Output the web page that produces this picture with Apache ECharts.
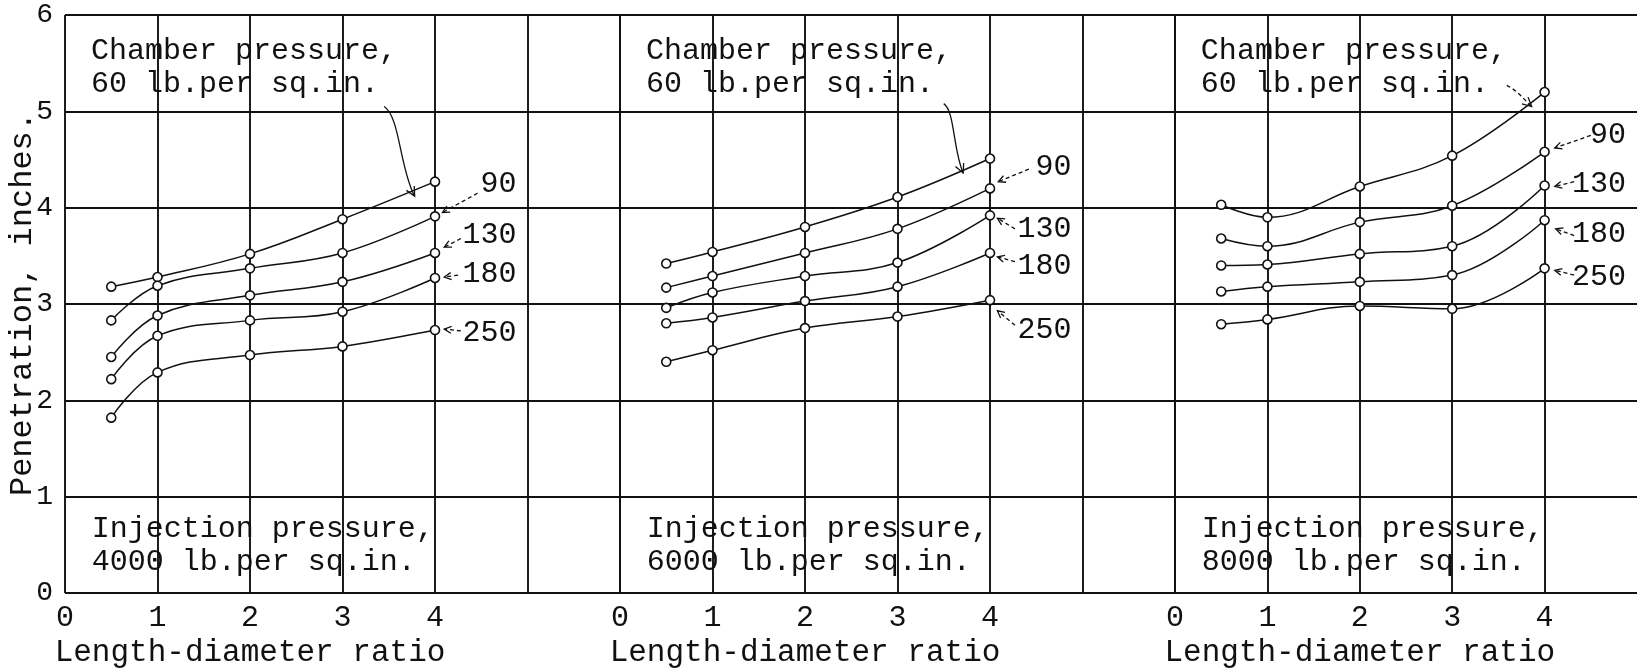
<!DOCTYPE html>
<html>
<head>
<meta charset="utf-8">
<script src="https://cdn.jsdelivr.net/npm/echarts@6/dist/echarts.min.js"></script>
<style>
html, body { margin: 0; padding: 0; background: #fff; }
#main { width: 1640px; height: 671px; }
</style>
</head>
<body>
<div id="main"></div>
<script>
// length-diameter ratios of the test points
var ratio = [0.5, 1, 2, 3, 4];
var xTickLabels = ['0', '1', '2', '3', '4'];
var yTickLabels = ['0', '1', '2', '3', '4', '5', '6'];
var injection = ['4000', '6000', '8000'];
var chamber = ['60', '90', '130', '180', '250'];

// penetration, inches (injection 4000)
var p4000_60  = [3.18, 3.28, 3.52, 3.88, 4.27];
var p4000_90  = [2.83, 3.19, 3.37, 3.53, 3.91];
var p4000_130 = [2.45, 2.88, 3.09, 3.23, 3.53];
var p4000_180 = [2.22, 2.67, 2.83, 2.92, 3.27];
var p4000_250 = [1.82, 2.29, 2.47, 2.56, 2.73];
// injection 6000
var p6000_60  = [3.42, 3.54, 3.80, 4.11, 4.51];
var p6000_90  = [3.17, 3.29, 3.53, 3.78, 4.20];
var p6000_130 = [2.96, 3.12, 3.29, 3.43, 3.92];
var p6000_180 = [2.80, 2.86, 3.03, 3.18, 3.53];
var p6000_250 = [2.40, 2.52, 2.75, 2.87, 3.04];
// injection 8000
var p8000_60  = [4.03, 3.90, 4.22, 4.54, 5.20];
var p8000_90  = [3.68, 3.60, 3.85, 4.02, 4.58];
var p8000_130 = [3.40, 3.41, 3.52, 3.60, 4.23];
var p8000_180 = [3.13, 3.18, 3.23, 3.30, 3.87];
var p8000_250 = [2.79, 2.84, 2.98, 2.95, 3.37];

var panels = [
    [p4000_60, p4000_90, p4000_130, p4000_180, p4000_250],
    [p6000_60, p6000_90, p6000_130, p6000_180, p6000_250],
    [p8000_60, p8000_90, p8000_130, p8000_180, p8000_250]
];

var FONT = '"Liberation Mono", "DejaVu Sans Mono", monospace';
var INK = '#111';

var myChart = echarts.init(document.getElementById('main'));

var grids = [], xAxes = [], yAxes = [], series = [];
var lefts = [65, 620, 1175];
var widths = [555, 555, 462.5];
var maxes = [6, 6, 5];
for (var p = 0; p < 3; p++) {
    grids.push({ left: lefts[p], top: 15, width: widths[p], height: 578 });
    xAxes.push({
        type: 'value', gridIndex: p, min: 0, max: maxes[p], interval: 1,
        axisLine: { show: false }, axisTick: { show: false },
        splitLine: { show: true, showMaxLine: p < 2, lineStyle: { color: INK, width: 1.9 } },
        axisLabel: {
            color: INK, fontFamily: FONT, fontSize: 30, margin: 10,
            formatter: function(v) { return xTickLabels[v] || ''; }
        }
    });
    yAxes.push({
        type: 'value', gridIndex: p, min: 0, max: 6, interval: 1,
        axisLine: { show: false }, axisTick: { show: false },
        splitLine: { show: true, lineStyle: { color: INK, width: 1.9 } },
        axisLabel: {
            show: p == 0, color: INK, fontFamily: FONT, fontSize: 28, margin: 12,
            formatter: function(v) { return yTickLabels[v]; }
        },
        name: p == 0 ? 'Penetration, inches.' : '',
        nameLocation: 'middle', nameRotate: 90, nameGap: 26, nameMoveOverlap: false,
        nameTextStyle: { color: INK, fontFamily: FONT, fontSize: 32 }
    });
    for (var k = 0; k < 5; k++) {
        var vals = panels[p][k];
        series.push({
            name: injection[p] + '/' + chamber[k],
            type: 'line', xAxisIndex: p, yAxisIndex: p,
            data: ratio.map(function(x, j) { return [x, vals[j]]; }),
            smooth: 0.4,
            symbol: 'circle', symbolSize: 9,
            itemStyle: { color: '#fff', borderColor: INK, borderWidth: 1.6 },
            lineStyle: { color: INK, width: 1.5 },
            z: 5
        });
    }
}

myChart.setOption({
    backgroundColor: '#fff',
    animation: false,
    grid: grids,
    xAxis: xAxes,
    yAxis: yAxes,
    series: series
});

// annotations
function px(p, x, y) { return myChart.convertToPixel({ gridIndex: p }, [x, y]); }
function arrowHead(tip, from, size) {
    var dx = tip[0] - from[0], dy = tip[1] - from[1];
    var len = Math.sqrt(dx * dx + dy * dy); dx /= len; dy /= len;
    var bx = tip[0] - dx * size, by = tip[1] - dy * size;
    var nx = -dy * size * 0.5, ny = dx * size * 0.5;
    return { type: 'polyline', z: 10, shape: { points: [[bx + nx, by + ny], tip, [bx - nx, by - ny]] },
        style: { stroke: INK, lineWidth: 1.3, fill: null } };
}

// label y, arrow start [x,y], arrow tip [x,y] (data units) for 90..250
var labelLayout = [
    [[4.24, 4.46, 4.15, 4.08, 3.95], [3.72, 4.28, 3.68, 4.10, 3.59], [3.31, 4.25, 3.30, 4.10, 3.28], [2.70, 4.28, 2.72, 4.10, 2.74]],
    [[4.42, 4.42, 4.40, 4.09, 4.27], [3.78, 4.27, 3.78, 4.08, 3.89], [3.39, 4.27, 3.44, 4.08, 3.49], [2.73, 4.27, 2.78, 4.08, 2.93]],
    [[4.75, 4.50, 4.75, 4.11, 4.62], [4.24, 4.32, 4.27, 4.11, 4.22], [3.73, 4.32, 3.71, 4.12, 3.78], [3.28, 4.32, 3.30, 4.11, 3.35]]
];
// chamber arrow curve: start, cp1, cp2, end
var chamberCurve = [
    [[3.45, 5.05], [3.62, 4.95], [3.62, 4.40], [3.78, 4.12]],
    [[3.50, 5.08], [3.62, 5.00], [3.60, 4.60], [3.71, 4.36]],
    [[3.59, 5.27], [3.70, 5.22], [3.78, 5.12], [3.86, 5.05]]
];

var graphics = [];
for (var p = 0; p < 3; p++) {
    var a = px(p, 0.28, 5.45);
    graphics.push({ type: 'text', x: a[0], y: a[1], z: 10,
        style: { text: 'Chamber pressure,\n' + chamber[0] + ' lb.per sq.in.', font: '30px ' + FONT,
            fill: INK, lineHeight: 33, align: 'left', verticalAlign: 'middle' } });
    var b = px(p, 0.29, 0.49);
    graphics.push({ type: 'text', x: b[0], y: b[1], z: 10,
        style: { text: 'Injection pressure,\n' + injection[p] + ' lb.per sq.in.', font: '30px ' + FONT,
            fill: INK, lineHeight: 33, align: 'left', verticalAlign: 'middle' } });
    var t = px(p, 2, 0);
    graphics.push({ type: 'text', x: t[0], y: 653, z: 10,
        style: { text: 'Length-diameter ratio', font: '31px ' + FONT, fill: INK,
            align: 'center', verticalAlign: 'middle' } });

    for (var k = 0; k < 4; k++) {
        var L = labelLayout[p][k];
        var lp = px(p, 4.88, L[0]);
        graphics.push({ type: 'text', x: lp[0], y: lp[1], z: 10,
            style: { text: chamber[k + 1], font: '30px ' + FONT, fill: INK, align: 'right', verticalAlign: 'middle' } });
        var s = px(p, L[1], L[2]), e = px(p, L[3], L[4]);
        graphics.push({ type: 'line', z: 10, shape: { x1: s[0], y1: s[1], x2: e[0], y2: e[1] },
            style: { stroke: INK, lineWidth: 1.3, lineDash: [4, 3] } });
        graphics.push(arrowHead(e, s, 7));
    }

    var c = chamberCurve[p].map(function(q) { return px(p, q[0], q[1]); });
    graphics.push({ type: 'bezierCurve', z: 10,
        shape: { x1: c[0][0], y1: c[0][1], cpx1: c[1][0], cpy1: c[1][1], cpx2: c[2][0], cpy2: c[2][1], x2: c[3][0], y2: c[3][1] },
        style: { stroke: INK, lineWidth: 1.3, fill: null, lineDash: p == 2 ? [4, 3] : null } });
    graphics.push(arrowHead(c[3], c[2], 9));
}
myChart.setOption({ graphic: graphics });
</script>
</body>
</html>
